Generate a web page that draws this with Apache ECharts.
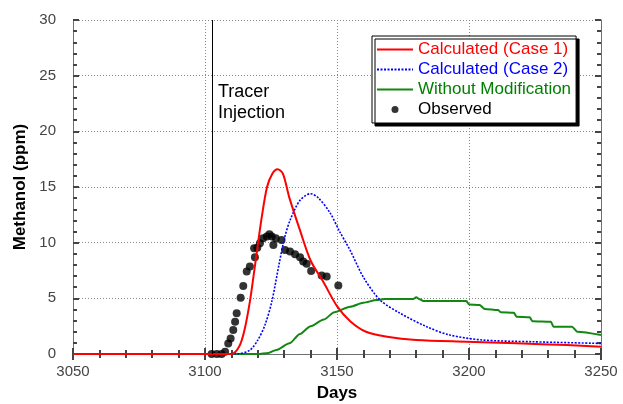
<!DOCTYPE html>
<html>
<head>
<meta charset="utf-8">
<script src="https://cdn.jsdelivr.net/npm/echarts@6/dist/echarts.min.js"></script>
<style>
  html, body { margin: 0; padding: 0; background: #fff; }
  #chart { width: 623px; height: 404px; }
</style>
</head>
<body>
<div id="chart"></div>
<script>
// data
var case1Days = [3050, 3110, 3113, 3115, 3117, 3118.5, 3120, 3121.5, 3123.5, 3125.5, 3127.5, 3129.5, 3132, 3136, 3140, 3145, 3150, 3155, 3161, 3169, 3180, 3199, 3218, 3237, 3250];
var case1Vals = [0, 0, 0.7, 2.2, 4.7, 7.2, 9.8, 12.3, 15.0, 16.2, 16.6, 16.2, 14.0, 11.1, 8.4, 6.4, 4.3, 2.95, 2.0, 1.55, 1.26, 1.1, 0.96, 0.8, 0.66];

var case2Days = [3050, 3112, 3117, 3120, 3122.7, 3125.3, 3128, 3130, 3132.2, 3136, 3140, 3143, 3147.3, 3151, 3155, 3160, 3166.3, 3174, 3184, 3192.8, 3205, 3224, 3250];
var case2Vals = [0, 0, 0.35, 1.25, 2.6, 4.7, 8.0, 10.3, 12.0, 13.8, 14.4, 14.0, 12.7, 11.0, 9.3, 6.9, 4.85, 3.65, 2.45, 1.7, 1.26, 1.1, 0.95];

var noModDays = [3050, 3120, 3124, 3127, 3132, 3136, 3140, 3145, 3149, 3155, 3160, 3165, 3168, 3179, 3180, 3181, 3183, 3199, 3200, 3204, 3206, 3211, 3212, 3217, 3218, 3223, 3224, 3231, 3232, 3239, 3241, 3250];
var noModVals = [0, 0, 0.1, 0.36, 0.96, 1.8, 2.5, 3.1, 3.75, 4.25, 4.6, 4.85, 4.95, 4.95, 5.1, 4.95, 4.75, 4.75, 4.45, 4.4, 4.05, 3.95, 3.75, 3.7, 3.35, 3.3, 2.95, 2.9, 2.45, 2.45, 2.0, 1.7];

var obsDays = [3102.5, 3104.5, 3106.3, 3107.6, 3108.8, 3109.7, 3110.7, 3111.4, 3112, 3113.5, 3114.5, 3115.8, 3117, 3118.6, 3118.9, 3119.8, 3120.8, 3122, 3123.4, 3124.4, 3125.3, 3125.9, 3126.8, 3129, 3130.3, 3132.2, 3134.1, 3136, 3137.2, 3138.5, 3140.2, 3144.2, 3146.1, 3150.5];
var obsVals = [0, 0, 0, 0.2, 0.95, 1.4, 2.15, 2.9, 3.65, 5.05, 6.1, 7.4, 7.85, 9.5, 8.7, 9.55, 9.95, 10.4, 10.55, 10.75, 10.55, 9.8, 10.4, 10.25, 9.35, 9.2, 8.95, 8.7, 8.3, 8.1, 7.45, 7.05, 6.95, 6.15];

var injectionDay = 3102.7;
var xMin = 3050, xMax = 3250, xStep = 50;
var yMin = 0, yMax = 30, yStep = 5;

function pairs(xs, ys) {
  return xs.map(function (x, i) { return [x, ys[i]]; });
}

var chart = echarts.init(document.getElementById('chart'));

var labelFont = 'Liberation Sans Narrow, Liberation Sans, Arial';
var tickColor = '#444';
var frameColor = '#707070';
var gridLine = { color: '#888', type: [1, 2], width: 1 };

chart.setOption({
  animation: false,
  backgroundColor: '#fff',
  grid: { left: 73, right: 22, top: 20, bottom: 50, outerBoundsMode: 'none' },
  xAxis: [{
    type: 'value', min: xMin, max: xMax, interval: xStep,
    name: 'Days', nameLocation: 'middle', nameGap: 31,
    nameTextStyle: { fontFamily: 'Liberation Sans, Arial', fontWeight: 'bold', fontSize: 17, color: '#000' },
    axisLine: { show: true, lineStyle: { color: frameColor } },
    axisTick: { show: true, inside: true, length: 6, lineStyle: { color: tickColor, width: 2 } },
    minorTick: { show: true, splitNumber: 5, length: 4, lineStyle: { color: tickColor, width: 2 } },
    splitLine: { show: true, lineStyle: gridLine },
    axisLabel: { margin: 10, fontFamily: labelFont, fontSize: 15, color: '#444',
      formatter: function (v) { return String(v); } }
  }, {
    type: 'value', position: 'top', min: xMin, max: xMax, interval: xStep,
    axisLine: { show: true, lineStyle: { color: frameColor } },
    axisTick: { show: true, inside: true, length: 6, lineStyle: { color: tickColor, width: 2 } },
    minorTick: { show: true, splitNumber: 5, length: 4, lineStyle: { color: tickColor, width: 2 } },
    splitLine: { show: false },
    axisLabel: { show: false }
  }],
  yAxis: [{
    type: 'value', min: yMin, max: yMax, interval: yStep,
    name: 'Methanol (ppm)', nameLocation: 'middle', nameGap: 42,
    nameTextStyle: { fontFamily: 'Liberation Sans, Arial', fontWeight: 'bold', fontSize: 17, color: '#000' },
    axisLine: { show: true, lineStyle: { color: frameColor } },
    axisTick: { show: true, inside: true, length: 6, lineStyle: { color: tickColor, width: 2 } },
    minorTick: { show: true, splitNumber: 5, length: 4, lineStyle: { color: tickColor, width: 2 } },
    splitLine: { show: true, lineStyle: gridLine },
    axisLabel: { margin: 17, fontFamily: labelFont, fontSize: 15, color: '#444' }
  }, {
    type: 'value', position: 'right', min: yMin, max: yMax, interval: yStep,
    axisLine: { show: true, lineStyle: { color: frameColor } },
    axisTick: { show: true, inside: true, length: 6, lineStyle: { color: tickColor, width: 2 } },
    minorTick: { show: true, splitNumber: 5, length: 4, lineStyle: { color: tickColor, width: 2 } },
    splitLine: { show: false },
    axisLabel: { show: false }
  }],
  legend: {
    orient: 'vertical', left: 372, top: 36,
    backgroundColor: '#fff', borderColor: '#000', borderWidth: 1,
    shadowColor: '#000', shadowBlur: 0, shadowOffsetX: 3, shadowOffsetY: 3,
    padding: [5, 5, 5, 4], itemGap: 3, itemWidth: 36, itemHeight: 7,
    textStyle: { fontFamily: 'Liberation Sans, Arial', fontSize: 17 },
    data: [
      { name: 'Calculated (Case 1)', itemStyle: { opacity: 0 }, textStyle: { color: '#ff0000' } },
      { name: 'Calculated (Case 2)', itemStyle: { opacity: 0 }, textStyle: { color: '#0000ff' } },
      { name: 'Without Modification', itemStyle: { opacity: 0 }, textStyle: { color: '#008000' } },
      { name: 'Observed', textStyle: { color: '#000' } }
    ]
  },
  graphic: [{
    type: 'text', left: 218, top: 82,
    style: { text: 'Tracer\nInjection', fontFamily: 'Liberation Sans, Arial', fontSize: 18, lineHeight: 21, fill: '#000' }
  }],
  series: [{
    name: 'Without Modification', type: 'line', symbol: 'none', smooth: 0.25, smoothMonotone: 'x',
    data: pairs(noModDays, noModVals),
    lineStyle: { color: '#118811', width: 2 }, itemStyle: { color: '#118811' }
  }, {
    name: 'Calculated (Case 2)', type: 'line', symbol: 'none', smooth: 0.3,
    data: pairs(case2Days, case2Vals),
    lineStyle: { color: '#0000ff', width: 1.6, type: [2, 1.5] }, itemStyle: { color: '#0000ff' }
  }, {
    name: 'Calculated (Case 1)', type: 'line', symbol: 'none', smooth: 0.3,
    data: pairs(case1Days, case1Vals),
    lineStyle: { color: '#ff0000', width: 2 }, itemStyle: { color: '#ff0000' },
    markLine: {
      silent: true, symbol: 'none', label: { show: false },
      lineStyle: { color: '#000', width: 1, type: 'solid' },
      data: [{ xAxis: injectionDay }]
    }
  }, {
    name: 'Observed', type: 'scatter', symbol: 'circle', symbolSize: 8,
    data: pairs(obsDays, obsVals),
    itemStyle: { color: '#000' }
  }]
});
</script>
</body>
</html>
